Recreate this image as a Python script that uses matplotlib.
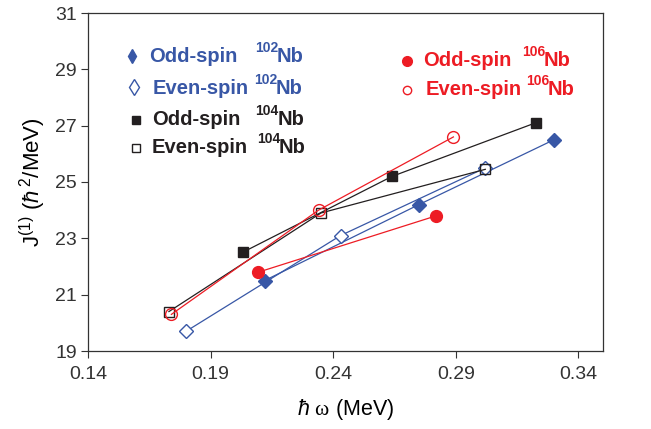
import matplotlib
matplotlib.use("Agg")
import matplotlib.pyplot as plt

plt.rcParams['font.family'] = ['Liberation Sans', 'DejaVu Sans']
plt.rcParams['mathtext.fontset'] = 'custom'
plt.rcParams['mathtext.rm'] = 'Liberation Sans'
plt.rcParams['mathtext.it'] = 'Liberation Sans:italic'
plt.rcParams['mathtext.bf'] = 'Liberation Sans:bold'
plt.rcParams['mathtext.sf'] = 'Liberation Serif'

# Data
odd102_x = [0.212, 0.275, 0.330]
odd102_y = [21.5, 24.2, 26.5]
even102_x = [0.180, 0.243, 0.302]
even102_y = [19.7, 23.1, 25.5]
odd104_x = [0.203, 0.264, 0.3225]
odd104_y = [22.5, 25.2, 27.1]
even104_x = [0.173, 0.235, 0.302]
even104_y = [20.4, 23.9, 25.45]
odd106_x = [0.2095, 0.282]
odd106_y = [21.8, 23.8]
even106_x = [0.174, 0.234, 0.289]
even106_y = [20.3, 24.0, 26.6]

xticks = [0.14, 0.19, 0.24, 0.29, 0.34]
yticks = [19, 21, 23, 25, 27, 29, 31]

BLUE = '#3857a6'
RED = '#ed1c24'
BLACK = '#231f20'

W, H = 651, 429
fig = plt.figure(figsize=(W / 100, H / 100), dpi=100)
ax = fig.add_axes([88 / W, 1 - 351 / H, (603 - 88) / W, (351 - 13) / H])

lw = 0.9
ax.plot(odd102_x, odd102_y, '-', color=BLUE, lw=lw, marker='D', ms=7.5, mfc=BLUE, mec=BLUE, zorder=3)
ax.plot(even102_x, even102_y, '-', color=BLUE, lw=lw, marker='D', ms=7.5, mfc='white', mec=BLUE, mew=1.0, zorder=3)
ax.plot(odd104_x, odd104_y, '-', color=BLACK, lw=lw, marker='s', ms=7, mfc=BLACK, mec=BLACK, zorder=3)
ax.plot(even104_x, even104_y, '-', color=BLACK, lw=lw, marker='s', ms=7.5, mfc='none', mec=BLACK, mew=1.0, zorder=3)
ax.plot(odd106_x, odd106_y, '-', color=RED, lw=lw, marker='o', ms=8.5, mfc=RED, mec=RED, zorder=3)
ax.plot(even106_x, even106_y, '-', color=RED, lw=lw, marker='o', ms=8.5, mfc='none', mec=RED, mew=1.0, zorder=3)

ax.set_xlim(0.14, 0.35)
ax.set_ylim(19, 31)
ax.set_xticks(xticks)
ax.set_xticklabels([f"{v:.2f}" for v in xticks])
ax.set_yticks(yticks)
ax.tick_params(direction='out', length=5, width=0.8, labelsize=14, colors='#333333')
ax.tick_params(axis='x', pad=6)
ax.tick_params(axis='y', pad=3)
for s in ax.spines.values():
    s.set_linewidth(0.9)
    s.set_color('#333333')

ax.set_xlabel(r"$\hbar\ \mathsf{\omega}$ (MeV)", fontsize=15.5, labelpad=10)
ax.set_ylabel(r"J$^{(1)}$ ($\hbar^{\,2}$/MeV)", fontsize=16, labelpad=5)


def fx(x):
    return x / W


def fy(y):
    return 1 - y / H


FS = 14.5
SFS = 10


def entry(mx, my, marker, ms, mfc, mec, color, tx, ty, label, nx, numtxt, nbx):
    fig.add_artist(plt.Line2D([fx(mx)], [fy(my)], marker=marker, ms=ms, mfc=mfc, mec=mec,
                              mew=1.0, transform=fig.transFigure, color=color, lw=0))
    fig.text(fx(tx), fy(ty), label, fontsize=FS, fontweight='bold', color=color, ha='left', va='baseline')
    fig.text(fx(nx), fy(ty - 10), numtxt, fontsize=SFS, fontweight='bold', color=color, ha='left', va='baseline')
    fig.text(fx(nbx), fy(ty), 'Nb', fontsize=FS, fontweight='bold', color=color, ha='left', va='baseline')


entry(132, 56, 'd', 7.5, BLUE, BLUE, BLUE, 149, 62, 'Odd-spin', 255, '102', 277)
entry(134, 87, 'd', 8, 'white', BLUE, BLUE, 153, 94, 'Even-spin', 254, '102', 276)
entry(136, 120, 's', 6, BLACK, BLACK, BLACK, 152, 125, 'Odd-spin', 255, '104', 278)
entry(136, 148, 's', 5.5, 'white', BLACK, BLACK, 152, 153, 'Even-spin', 257, '104', 279)
entry(407, 61, 'o', 7, RED, RED, RED, 423, 66, 'Odd-spin', 522, '106', 544)
entry(407, 90, 'o', 6, 'white', RED, RED, 426, 95, 'Even-spin', 526, '106', 548)

fig.savefig('out.png', dpi=100, facecolor='white')
